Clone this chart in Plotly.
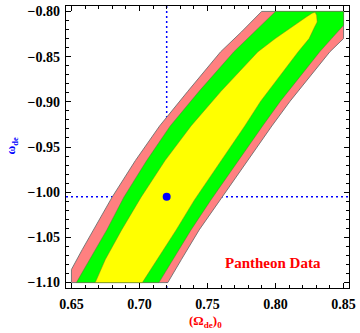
import plotly.graph_objects as go

# ---- data (Omega_de0 vs w_de confidence regions) ----
# outer (3-sigma, salmon) region boundaries
outer_left_x = [0.6500, 0.6500, 0.6579, 0.6662, 0.6799, 0.6970, 0.7148, 0.7355, 0.7597, 0.7749, 0.7898]
outer_left_y = [-1.1000, -1.0855, -1.0636, -1.0417, -1.0055, -0.9650, -0.9267, -0.8884, -0.8446, -0.8227, -0.8000]
outer_right_x = [0.8500, 0.8500, 0.8400, 0.8253, 0.8107, 0.7973, 0.7794, 0.7607, 0.7439, 0.7308, 0.7208]
outer_right_y = [-0.8000, -0.8300, -0.8446, -0.8719, -0.8993, -0.9267, -0.9650, -1.0055, -1.0417, -1.0745, -1.1000]

# middle (2-sigma, green) region boundaries
mid_left_x = [0.6536, 0.6633, 0.6760, 0.6885, 0.7053, 0.7226, 0.7438, 0.7694, 0.7847, 0.8000]
mid_left_y = [-1.1000, -1.0745, -1.0417, -1.0055, -0.9650, -0.9267, -0.8884, -0.8446, -0.8227, -0.8000]
mid_right_x = [0.8500, 0.8500, 0.8412, 0.8325, 0.8181, 0.8036, 0.7905, 0.7728, 0.7524, 0.7379, 0.7246, 0.7143]
mid_right_y = [-0.8000, -0.8153, -0.8300, -0.8446, -0.8719, -0.8993, -0.9267, -0.9650, -1.0088, -1.0417, -1.0745, -1.1000]

# inner (1-sigma, yellow) region boundaries
inner_left_x = [0.6675, 0.6749, 0.6869, 0.7012, 0.7188, 0.7379, 0.7599, 0.7871, 0.7998, 0.8116, 0.8226, 0.8269, 0.8291]
inner_left_y = [-1.1000, -1.0745, -1.0417, -1.0055, -0.9650, -0.9267, -0.8884, -0.8446, -0.8300, -0.8172, -0.8062, -0.8019, -0.8008]
inner_right_x = [0.8302, 0.8306, 0.8287, 0.8247, 0.8167, 0.8029, 0.7891, 0.7774, 0.7601, 0.7403, 0.7270, 0.7130, 0.7021]
inner_right_y = [-0.8041, -0.8117, -0.8172, -0.8300, -0.8446, -0.8719, -0.8993, -0.9267, -0.9650, -1.0088, -1.0417, -1.0745, -1.1000]

# best-fit point
best_x = [0.720]
best_y = [-1.005]

x_ticks = [0.65, 0.70, 0.75, 0.80, 0.85]
x_ticktext = ["0.65", "0.70", "0.75", "0.80", "0.85"]
y_ticks = [-1.10, -1.05, -1.00, -0.95, -0.90, -0.85, -0.80]
y_ticktext = ["\u22121.10", "\u22121.05", "\u22121.00", "\u22120.95", "\u22120.90", "\u22120.85", "\u22120.80"]

x_range = [0.646, 0.854]
y_range = [-1.106, -0.794]

SERIF = "Liberation Serif, Times New Roman, serif"

fig = go.Figure()

# dotted guide lines (drawn beneath the filled regions)
fig.add_trace(go.Scatter(x=[best_x[0], best_x[0]], y=y_range, mode="lines",
                         line=dict(color="#0000FF", width=1.5, dash="2px,3px"),
                         hoverinfo="skip", showlegend=False))
fig.add_trace(go.Scatter(x=x_range, y=[best_y[0], best_y[0]], mode="lines",
                         line=dict(color="#0000FF", width=1.5, dash="2px,3px"),
                         hoverinfo="skip", showlegend=False))

def region(lx, ly, rx, ry, color, edge, w):
    xs = list(lx) + list(rx) + [lx[0]]
    ys = list(ly) + list(ry) + [ly[0]]
    fig.add_trace(go.Scatter(x=xs, y=ys, mode="lines", fill="toself",
                             fillcolor=color, line=dict(color=edge, width=w),
                             hoverinfo="skip", showlegend=False))

region(outer_left_x, outer_left_y, outer_right_x, outer_right_y,
       "#FF8080", "rgba(110,110,110,0.9)", 1.0)
region(mid_left_x, mid_left_y, mid_right_x, mid_right_y,
       "#00FF00", "rgba(90,110,60,0.6)", 0.8)
region(inner_left_x, inner_left_y, inner_right_x, inner_right_y,
       "#FFFF00", "rgba(120,120,40,0.6)", 0.8)

fig.add_trace(go.Scatter(x=best_x, y=best_y, mode="markers",
                         marker=dict(color="#0000FF", size=8),
                         hoverinfo="skip", showlegend=False))

axis_common = dict(
    showline=True, linecolor="black", linewidth=1.2, mirror="allticks",
    ticks="inside", ticklen=5, tickwidth=1, tickcolor="black",
    showgrid=False, zeroline=False,
    tickfont=dict(family=SERIF, size=14, color="black", weight="bold"),
)

fig.update_xaxes(range=x_range, tickvals=x_ticks, ticktext=x_ticktext,
                 minor=dict(ticks="inside", ticklen=2.5, tickwidth=1, dtick=0.01,
                            tick0=0.65, tickcolor="black", showgrid=False),
                 ticklabelstandoff=3, **axis_common)
fig.update_yaxes(range=y_range, tickvals=y_ticks, ticktext=y_ticktext,
                 minor=dict(ticks="inside", ticklen=2.5, tickwidth=1, dtick=0.01,
                            tick0=-1.10, tickcolor="black", showgrid=False),
                 ticklabelstandoff=2, **axis_common)

fig.add_annotation(text="Pantheon Data", x=0.7985, y=-1.078, xref="x", yref="y",
                   showarrow=False,
                   font=dict(family=SERIF, size=15, color="#FF0000", weight="bold"))
fig.add_annotation(text="(\u03a9<sub>de</sub>)<sub>0</sub>", x=0.493, y=-0.12,
                   xref="paper", yref="paper", showarrow=False,
                   xanchor="center", yanchor="middle",
                   font=dict(family=SERIF, size=13, color="#FF0000", weight="bold"))
fig.add_annotation(text="\u03c9<sub>de</sub>", x=-0.189, y=0.5035,
                   xref="paper", yref="paper", showarrow=False, textangle=-90,
                   xanchor="center", yanchor="middle",
                   font=dict(family=SERIF, size=12, color="#0000FF", weight="bold"))

fig.update_layout(
    width=360, height=333,
    margin=dict(l=66, r=8, t=4, b=45),
    paper_bgcolor="white", plot_bgcolor="white",
    showlegend=False,
)

fig.write_html("out.html", config={"displayModeBar": False},
               post_script="document.body.style.margin='0';")
